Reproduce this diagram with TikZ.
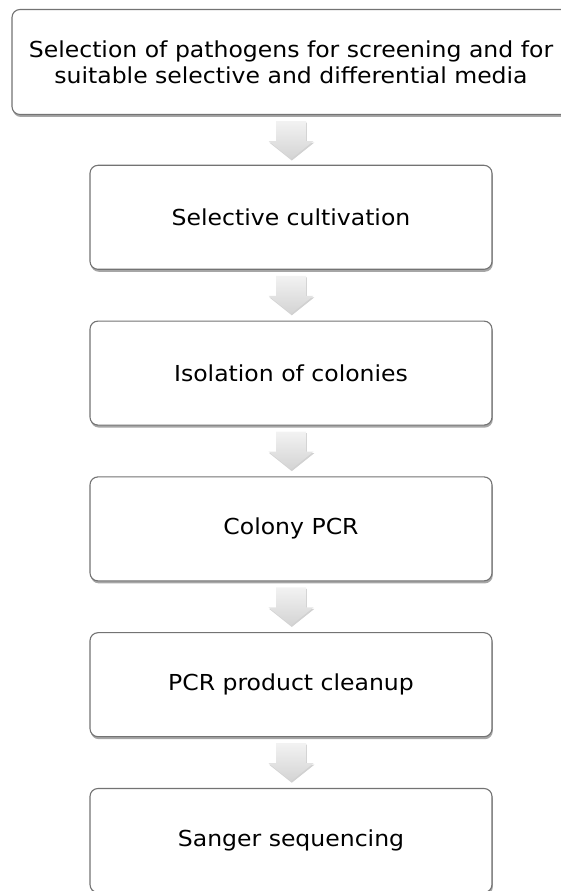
\documentclass[tikz,border=0pt]{standalone}
\usepackage{fontspec}
\setmainfont[FakeStretch=1.07]{DejaVu Sans}
\usetikzlibrary{calc,shadows}
\tikzset{
  stepbox/.style={draw=black!55, line width=1.1pt, rounded corners=8pt, fill=white,
    minimum width=402pt, minimum height=104pt, align=center, inner sep=0pt,
    font=\fontsize{22}{26}\selectfont,
    drop shadow={shadow xshift=0.8pt, shadow yshift=-2.5pt, fill=black, opacity=0.35}},
  arrowfill/.style={top color=white!95!black, bottom color=white!83!black, draw=none,
    drop shadow={shadow xshift=0.8pt, shadow yshift=-1.5pt, fill=black, opacity=0.18}}
}
\newcommand{\flowarrow}[1]{%
  \path[arrowfill] ($(#1.south)+(-15,-6)$) -- ($(#1.south)+(15,-6)$) -- ($(#1.south)+(15,-26)$)
    -- ($(#1.south)+(22.5,-26)$) -- ($(#1.south)+(0,-44)$) -- ($(#1.south)+(-22.5,-26)$)
    -- ($(#1.south)+(-15,-26)$) -- cycle;}
\begin{document}
\begin{tikzpicture}[x=1pt,y=1pt]
\useasboundingbox (0,0) rectangle (560,891);
\node[stepbox, minimum width=600pt, minimum height=105pt,
  label={[font=\fontsize{22}{26}\selectfont, align=center, shift={(-21,0)}]center:Selection of pathogens for screening and for\\suitable selective and differential media}]
  (b1) at (312,829) {};
\node[stepbox] (b2) at (291,673.7) {Selective cultivation};
\node[stepbox] (b3) at (291,517.9) {Isolation of colonies};
\node[stepbox] (b4) at (291,362.1) {Colony PCR};
\node[stepbox] (b5) at (291,206.3) {PCR product cleanup};
\node[stepbox] (b6) at (291,50.5) {Sanger sequencing};
\coordinate (b1s) at (b1.south -| b2.south);
\flowarrow{b1s}
\flowarrow{b2}
\flowarrow{b3}
\flowarrow{b4}
\flowarrow{b5}
\end{tikzpicture}
\end{document}
